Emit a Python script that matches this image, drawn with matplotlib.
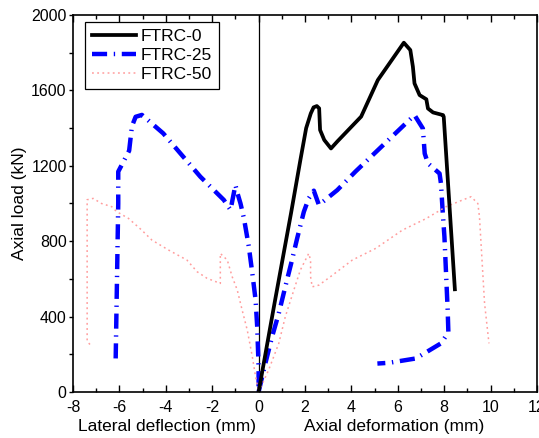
import numpy as np
import matplotlib.pyplot as plt
from matplotlib.ticker import MultipleLocator

plt.rcParams['font.family'] = ['Liberation Sans', 'DejaVu Sans']
plt.rcParams['axes.unicode_minus'] = False

# FTRC-0: only axial deformation branch
ftrc0_axial_x = [0, 0.7, 1.4, 1.8, 2.05, 2.25, 2.37, 2.51, 2.61, 2.65, 2.83, 3.12, 3.4,
                 4.42, 5.14, 6.26, 6.54, 6.65, 6.72, 6.94, 7.23, 7.3, 7.52, 7.95, 7.98, 8.46]
ftrc0_axial_y = [0, 480, 950, 1230, 1400, 1478, 1510, 1517, 1505, 1390, 1337, 1292, 1330,
                 1461, 1655, 1853, 1814, 1726, 1637, 1575, 1553, 1504, 1483, 1469, 1460, 545]

# FTRC-25
ftrc25_lat_x = [-6.16, -6.05, -6.05, -5.58, -5.46, -5.3, -5.03, -4.11, -2.51, -1.5, -1.21,
                -1.07, -1.0, -0.9, -0.78, -0.63, -0.42, -0.27, -0.13, -0.06, 0.0, 0.0]
ftrc25_lat_y = [178, 1000, 1169, 1280, 1410, 1460, 1470, 1372, 1142, 1019, 966,
                1054, 1098, 1050, 1000, 920, 770, 629, 488, 346, 134, 0]
ftrc25_axial_x = [0, 0.29, 0.58, 0.87, 1.15, 1.44, 1.66, 1.95, 2.16, 2.38, 2.6, 3.39, 4.18,
                  6.72, 7.08, 7.16, 7.3, 7.8, 7.86, 7.94, 8.01, 8.15, 8.18, 7.86, 6.78, 5.63, 5.12]
ftrc25_axial_y = [0, 151, 293, 417, 558, 700, 814, 956, 1027, 1068, 992, 1071, 1170,
                  1469, 1398, 1265, 1213, 1159, 1106, 947, 823, 434, 316, 258, 178, 155, 151]

# FTRC-50
ftrc50_lat_x = [-7.27, -7.39, -7.39, -7.13, -6.77, -6.33, -6.12, -5.61, -5.04, -4.6, -3.88,
                -3.09, -2.65, -2.22, -1.65, -1.65, -1.35, -1.14, -0.92, -0.71, -0.49, -0.27,
                -0.13, 0]
ftrc50_lat_y = [252, 270, 1020, 1027, 1000, 983, 957, 921, 859, 806, 753,
                700, 638, 603, 576, 735, 700, 612, 541, 435, 329, 187,
                81, 0]
ftrc50_axial_x = [0, 0.43, 0.87, 1.15, 1.52, 1.8, 2.16, 2.24, 2.24, 2.31, 2.6, 3.1, 4.04,
                  5.05, 6.2, 7.22, 8.08, 8.8, 9.16, 9.45, 9.52, 9.74, 9.93]
ftrc50_axial_y = [0, 116, 258, 399, 541, 647, 735, 700, 612, 558, 567, 612, 700,
                  762, 859, 920, 983, 1019, 1036, 1000, 930, 470, 258]

fig = plt.figure(figsize=(5.39, 4.38), dpi=100)
ax = fig.add_axes([73 / 539, 46 / 438, 464 / 539, 377 / 438])

pink = '#ff9d9d'
blue_style = dict(color='#0000ff', lw=3.2, linestyle=(0, (3.4, 1.5, 0.3, 1.5)))
pink_style = dict(color=pink, lw=1.1, linestyle=(0, (1.2, 2.2)))

ax.plot(ftrc0_axial_x, ftrc0_axial_y, color='black', lw=2.7, label='FTRC-0', zorder=3)
ax.plot(ftrc25_axial_x, ftrc25_axial_y, label='FTRC-25', **blue_style)
ax.plot(ftrc25_lat_x, ftrc25_lat_y, **blue_style)
ax.plot(ftrc50_axial_x, ftrc50_axial_y, label='FTRC-50', **pink_style)
ax.plot(ftrc50_lat_x, ftrc50_lat_y, **pink_style)

ax.axvline(0, color='black', lw=0.9, zorder=1)

ax.set_xlim(-8, 12)
ax.set_ylim(0, 2000)
ax.xaxis.set_major_locator(MultipleLocator(2))
ax.xaxis.set_minor_locator(MultipleLocator(1))
ax.yaxis.set_major_locator(MultipleLocator(400))
ax.yaxis.set_minor_locator(MultipleLocator(200))
ax.tick_params(axis='x', which='both', direction='in', top=True, labelsize=11.5, pad=6)
ax.tick_params(axis='x', which='major', length=5, width=1)
ax.tick_params(axis='x', which='minor', length=3, width=1)
ax.tick_params(axis='y', which='both', direction='out', labelsize=11.5, pad=1.5)
ax.tick_params(axis='y', which='major', length=3, width=1)
ax.tick_params(axis='y', which='minor', length=3, width=1)
for s in ax.spines.values():
    s.set_linewidth(1.2)

ax.set_ylabel('Axial load (kN)', fontsize=12.5, labelpad=3)
fig.text(167 / 539, 1 - 426 / 438, 'Lateral deflection (mm)', fontsize=12.5, ha='center', va='center')
fig.text(394 / 539, 1 - 426 / 438, 'Axial deformation (mm)', fontsize=12.5, ha='center', va='center')

leg = ax.legend(loc='upper left', bbox_to_anchor=(12 / 464, 1 - 7 / 377), borderaxespad=0,
                fontsize=12.5, handlelength=2.5, handletextpad=0.3, labelspacing=0.2,
                fancybox=False, edgecolor='black', framealpha=1, borderpad=0.42)
leg.get_frame().set_linewidth(0.9)

fig.savefig('out.png', dpi=100)
